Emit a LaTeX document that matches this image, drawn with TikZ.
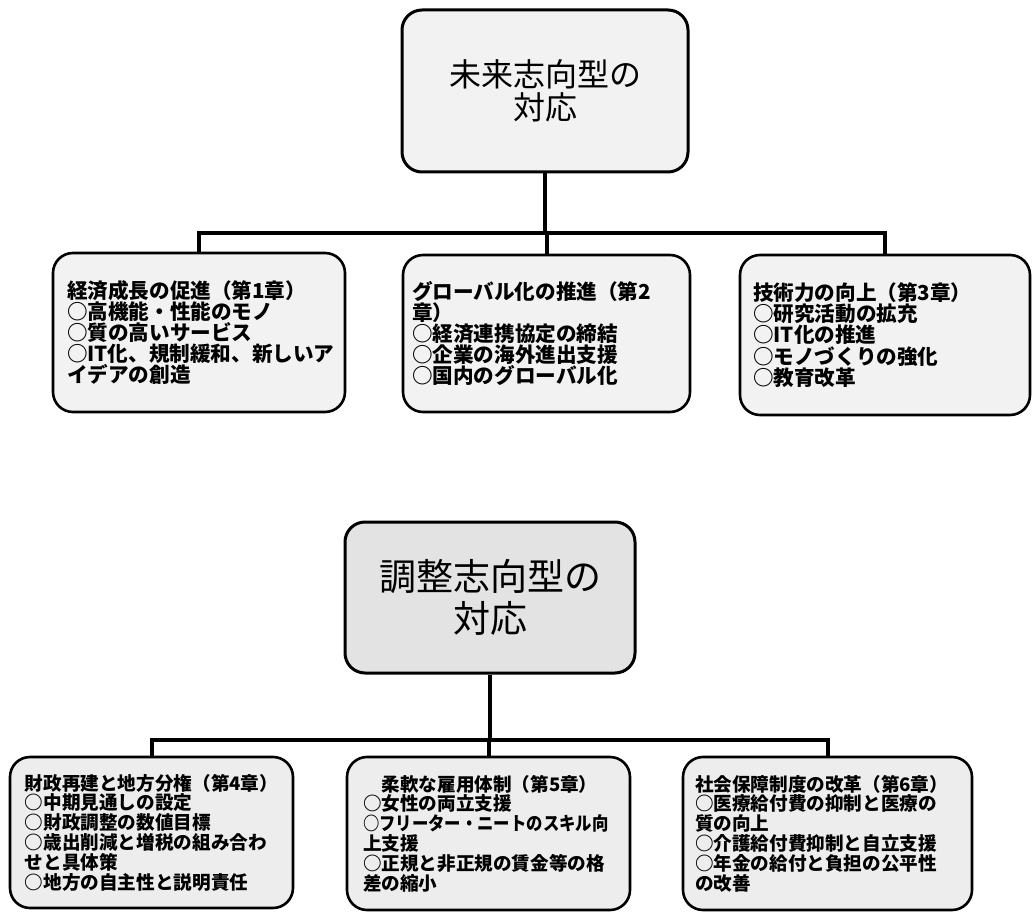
\documentclass[tikz,border=0pt]{standalone}
\usepackage{fontspec}
\setmainfont{Noto Sans CJK JP}
\usetikzlibrary{positioning}

\begin{document}
\begin{tikzpicture}[x=0.5pt,y=-0.5pt,
  rootbox/.style={draw,line width=1.5pt,rounded corners=10pt,align=center,inner sep=0pt},
  itembox/.style={draw,line width=1.3pt,rounded corners=10pt,align=left,inner ysep=0pt,
    font=\bfseries\fontsize{10.3pt}{10.6pt}\selectfont},
  lowbox/.style={itembox,fill=gray!14,font=\bfseries\fontsize{9.3pt}{9.9pt}\selectfont},
  link/.style={line width=2pt}]
\useasboundingbox (0,0) rectangle (1033,914);

% forward-looking response
\node[rootbox,fill=gray!10,minimum width=143pt,minimum height=81pt,
  font=\fontsize{16pt}{16.5pt}\selectfont] (mirai) at (545,91) {未来志向型の\\対応};
\node[itembox,fill=gray!10,minimum width=146pt,minimum height=79.5pt,inner xsep=7pt,text width=132pt]
  (seicho) at (199,332.5) {経済成長の促進（第1章）\\○高機能・性能のモノ\\○質の高いサービス\\○IT化、規制緩和、新しいア\\イデアの創造};
\node[itembox,fill=gray!10,minimum width=143.5pt,minimum height=78.5pt,inner xsep=4.5pt,text width=134.5pt]
  (global) at (546.5,333.5) {グローバル化の推進（第2\\章）\\○経済連携協定の締結\\○企業の海外進出支援\\○国内のグローバル化};
\node[itembox,fill=gray!10,minimum width=145pt,minimum height=80pt,inner xsep=6.5pt,text width=132pt]
  (gijutsu) at (885,335) {技術力の向上（第3章）\\○研究活動の拡充\\○IT化の推進\\○モノづくりの強化\\○教育改革};

\coordinate (topbus) at (0,233);
\draw[link] (mirai.south) -- (mirai.south |- topbus);
\draw[link] (seicho.north) -- (seicho.north |- topbus) -- (gijutsu.north |- topbus) -- (gijutsu.north);
\draw[link] (global.north) -- (global.north |- topbus);

% adjustment-oriented response
\node[rootbox,fill=gray!22,minimum width=145pt,minimum height=75.5pt,
  font=\fontsize{18.5pt}{21pt}\selectfont] (chosei) at (490,597.5) {調整志向型の\\対応};
\node[lowbox,minimum width=141.5pt,minimum height=75.5pt,inner xsep=7.5pt,text width=126.5pt]
  (zaisei) at (151.5,832.5) {財政再建と地方分権（第4章）\\○中期見通しの設定\\○財政調整の数値目標\\○歳出削減と増税の組み合わ\\せと具体策\\○地方の自主性と説明責任};
\node[lowbox,minimum width=141.5pt,minimum height=76.5pt,inner xsep=8pt,text width=125.5pt]
  (koyo) at (488.5,833.5) {\quad 柔軟な雇用体制（第5章）\\○女性の両立支援\\\scalebox{0.88}[1]{○フリーター・ニートのスキル向}\\上支援\\○正規と非正規の賃金等の格\\差の縮小};
\node[lowbox,minimum width=144.5pt,minimum height=76.5pt,inner xsep=6pt,text width=132.5pt]
  (shakai) at (827.5,833.5) {社会保障制度の改革（第6章）\\○医療給付費の抑制と医療の\\質の向上\\○介護給付費抑制と自立支援\\○年金の給付と負担の公平性\\の改善};

\coordinate (lowbus) at (0,740);
\draw[link] (chosei.south) -- (chosei.south |- lowbus);
\draw[link] (zaisei.north) -- (zaisei.north |- lowbus) -- (shakai.north |- lowbus) -- (shakai.north);
\draw[link] (koyo.north) -- (koyo.north |- lowbus);
\end{tikzpicture}
\end{document}
